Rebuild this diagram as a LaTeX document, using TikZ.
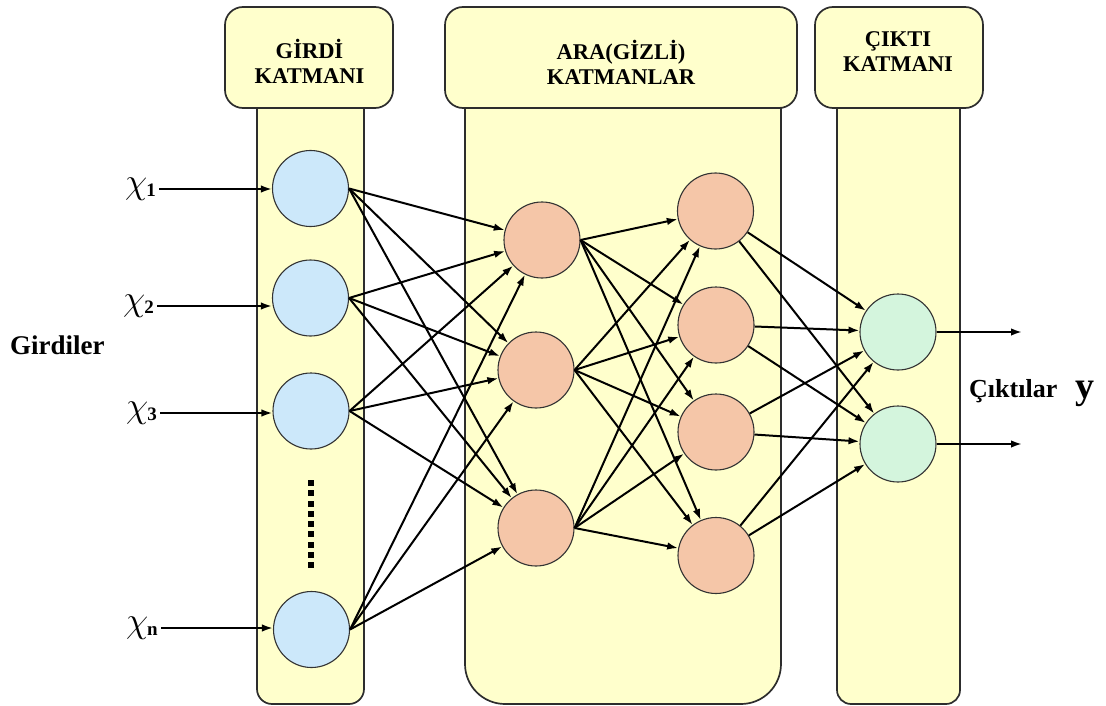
\documentclass[tikz,border=0pt]{standalone}
\usepackage{fontspec}
\usepackage{graphicx}
\setmainfont{Liberation Serif}
\usetikzlibrary{arrows.meta}

\definecolor{layerfill}{RGB}{255,255,204}
\definecolor{inblue}{RGB}{204,232,250}
\definecolor{hidpeach}{RGB}{245,198,168}
\definecolor{outgreen}{RGB}{212,245,221}
\definecolor{edgegray}{RGB}{45,45,45}

\newcommand{\inlab}[1]{\scalebox{1.45}{\fontsize{24}{24}\selectfont$\chi$}\kern-1pt\raisebox{-3pt}{\fontsize{19}{19}\selectfont\bfseries #1}}

\begin{document}
\begin{tikzpicture}[x=1pt,y=-1pt,
  layerbody/.style={draw=edgegray, line width=1.7pt, fill=layerfill},
  layerhead/.style={draw=edgegray, line width=1.7pt, fill=layerfill,
    rounded corners=18pt, rectangle, minimum height=101pt, inner sep=0pt},
  headtext/.style={font=\fontsize{22.5}{25}\selectfont\bfseries, align=center, inner sep=0pt},
  neuron/.style={circle, draw=black!80, line width=1.1pt, minimum size=76pt, inner sep=0pt},
  inneuron/.style={neuron, fill=inblue},
  hidneuron/.style={neuron, fill=hidpeach},
  outneuron/.style={neuron, fill=outgreen},
  conn/.style={-{Latex[length=11pt,width=7.5pt]}, line width=2pt},
  xlabel/.style={anchor=east, inner xsep=3pt, inner ysep=0pt},
  sidetext/.style={font=\fontsize{27}{27}\selectfont\bfseries, inner sep=0pt},
]
\useasboundingbox (0,0) rectangle (1106,706);

% layer columns (tops hidden under the header boxes)
\draw[layerbody, rounded corners=15pt] (257,60) rectangle (364,704);
\draw[layerbody, rounded corners=40pt] (465,60) rectangle (781,704);
\draw[layerbody, rounded corners=14pt] (837,60) rectangle (960,704);

% layer headers
\node[layerhead, minimum width=168pt] (hin)  at (309,57.5) {};
\node[layerhead, minimum width=352pt] (hhid) at (621,57.5) {};
\node[layerhead, minimum width=168pt] (hout) at (899,57.5) {};

\node[headtext] (tin)  at (309.5,61) {GİRDİ\\KATMANI};
\node[headtext] (thid) at (621,62) {ARA(GİZLİ)\\KATMANLAR};
\node[headtext] (tout) at (898,52) {ÇIKTI\\KATMANI};

% neurons
\node[inneuron] (i1) at (310.5,188.5) {};
\node[inneuron] (i2) at (310.5,298) {};
\node[inneuron] (i3) at (311,411) {};
\node[inneuron] (in) at (311.5,629.5) {};

\node[hidneuron] (a1) at (542,240) {};
\node[hidneuron] (a2) at (536,370) {};
\node[hidneuron] (a3) at (536,528) {};

\node[hidneuron] (b1) at (715.5,211) {};
\node[hidneuron] (b2) at (716,325) {};
\node[hidneuron] (b3) at (716,432) {};
\node[hidneuron] (b4) at (716,555.5) {};

\node[outneuron] (o1) at (898,332) {};
\node[outneuron] (o2) at (898,444) {};

% ellipsis between the input neurons
\foreach \k in {0,...,8}
  \fill (308,480+\k*10.25) rectangle +(6,6);

% input labels
\node[xlabel] (l1) at (159,189) {\inlab{1}};
\node[xlabel] (l2) at (157,306) {\inlab{2}};
\node[xlabel] (l3) at (160,413) {\inlab{3}};
\node[xlabel] (ln) at (161,628) {\inlab{n}};

\node[sidetext, anchor=base west] (gir) at (10,354) {Girdiler};
\node[sidetext, anchor=base west, font=\fontsize{26}{26}\selectfont\bfseries] (cik) at (969,397) {Çıktılar};
\node[inner sep=0pt, anchor=base west, font=\fontsize{38}{38}\selectfont\bfseries] (yout) at (1075,398) {y};

% input arrows
\draw[conn] (l1.east) -- (l1.east -| i1.west);
\draw[conn] (l2.east) -- (l2.east -| i2.west);
\draw[conn] (l3.east) -- (l3.east -| i3.west);
\draw[conn] (ln.east) -- (ln.east -| in.west);

% input layer -> first hidden layer
\foreach \s in {i1,i2,i3,in}
  \foreach \t in {a1,a2,a3}
    \draw[conn] (\s.east) -- (\t);

% first hidden layer -> second hidden layer
\foreach \s in {a1,a2,a3}
  \foreach \t in {b1,b2,b3,b4}
    \draw[conn] (\s.east) -- (\t);

% second hidden layer -> output layer
\foreach \s in {b1,b2,b3,b4}
  \foreach \t in {o1,o2}
    \draw[conn] (\s) -- (\t);

% outputs
\coordinate (y1) at (1022,332);
\coordinate (y2) at (1022,444);
\draw[conn] (o1.east) -- (y1);
\draw[conn] (o2.east) -- (y2);
\end{tikzpicture}
\end{document}
